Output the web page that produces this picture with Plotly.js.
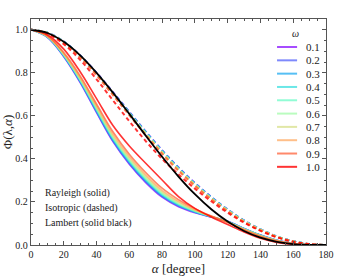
<!DOCTYPE html>
<html>
<head>
<meta charset="utf-8">
<script src="https://cdn.plot.ly/plotly-3.0.1.min.js"></script>
<style>
  html, body { margin: 0; padding: 0; background: #fff; }
  #chart { width: 354px; height: 279px; }
</style>
</head>
<body>
<div id="chart"></div>
<script>
// phase angle grid, degrees
const alpha = [0, 10, 20, 30, 40, 50, 60, 70, 80, 90, 100, 110, 120, 130, 140, 150, 160, 170, 180]
const omegas = ["0.1", "0.2", "0.3", "0.4", "0.5", "0.6", "0.7", "0.8", "0.9", "1.0"]

// Rayleigh scattering (solid), one per omega
const ray01 = [1, 0.965, 0.875, 0.755, 0.615, 0.480, 0.375, 0.290, 0.222, 0.178, 0.150, 0.130, 0.110, 0.077, 0.046, 0.022, 0.007, 0.001, 0]
const ray02 = [1, 0.966, 0.877, 0.758, 0.618, 0.484, 0.379, 0.294, 0.226, 0.181, 0.152, 0.130, 0.110, 0.076, 0.046, 0.022, 0.007, 0.001, 0]
const ray03 = [1, 0.966, 0.878, 0.760, 0.622, 0.488, 0.383, 0.298, 0.229, 0.184, 0.153, 0.131, 0.109, 0.076, 0.045, 0.021, 0.007, 0.001, 0]
const ray04 = [1, 0.967, 0.880, 0.763, 0.625, 0.492, 0.387, 0.302, 0.233, 0.186, 0.155, 0.131, 0.109, 0.075, 0.045, 0.021, 0.007, 0.001, 0]
const ray05 = [1, 0.968, 0.882, 0.766, 0.630, 0.497, 0.392, 0.307, 0.237, 0.190, 0.157, 0.132, 0.108, 0.074, 0.044, 0.021, 0.007, 0.001, 0]
const ray06 = [1, 0.968, 0.884, 0.769, 0.634, 0.501, 0.397, 0.312, 0.242, 0.193, 0.159, 0.132, 0.108, 0.074, 0.043, 0.021, 0.006, 0.001, 0]
const ray07 = [1, 0.969, 0.886, 0.773, 0.639, 0.507, 0.403, 0.318, 0.247, 0.198, 0.161, 0.133, 0.107, 0.073, 0.043, 0.020, 0.006, 0.001, 0]
const ray08 = [1, 0.970, 0.889, 0.778, 0.646, 0.515, 0.411, 0.326, 0.254, 0.203, 0.164, 0.134, 0.106, 0.072, 0.042, 0.020, 0.006, 0.001, 0]
const ray09 = [1, 0.972, 0.894, 0.786, 0.655, 0.526, 0.422, 0.337, 0.264, 0.211, 0.169, 0.135, 0.105, 0.070, 0.040, 0.019, 0.006, 0.001, 0]
const ray10 = [1, 0.977, 0.910, 0.805, 0.680, 0.555, 0.460, 0.380, 0.302, 0.225, 0.170, 0.130, 0.095, 0.060, 0.031, 0.012, 0.003, 0.0005, 0]

// isotropic scattering (dashed)
const iso01 = [1, 0.986, 0.945, 0.880, 0.800, 0.710, 0.618, 0.527, 0.440, 0.360, 0.288, 0.223, 0.165, 0.114, 0.073, 0.040, 0.017, 0.004, 0]
const iso02 = [1, 0.986, 0.945, 0.879, 0.799, 0.709, 0.617, 0.526, 0.439, 0.359, 0.287, 0.222, 0.164, 0.113, 0.073, 0.040, 0.017, 0.004, 0]
const iso03 = [1, 0.986, 0.944, 0.879, 0.798, 0.707, 0.615, 0.524, 0.437, 0.357, 0.285, 0.221, 0.163, 0.113, 0.072, 0.040, 0.017, 0.004, 0]
const iso04 = [1, 0.986, 0.944, 0.878, 0.797, 0.706, 0.614, 0.523, 0.436, 0.356, 0.284, 0.220, 0.163, 0.112, 0.072, 0.039, 0.017, 0.004, 0]
const iso05 = [1, 0.985, 0.943, 0.877, 0.796, 0.705, 0.612, 0.521, 0.434, 0.354, 0.283, 0.219, 0.162, 0.112, 0.071, 0.039, 0.017, 0.004, 0]
const iso06 = [1, 0.985, 0.943, 0.876, 0.794, 0.703, 0.610, 0.519, 0.432, 0.352, 0.281, 0.217, 0.161, 0.111, 0.071, 0.039, 0.017, 0.004, 0]
const iso07 = [1, 0.985, 0.942, 0.875, 0.793, 0.702, 0.609, 0.517, 0.430, 0.351, 0.280, 0.216, 0.160, 0.110, 0.070, 0.039, 0.016, 0.004, 0]
const iso08 = [1, 0.985, 0.941, 0.874, 0.791, 0.699, 0.606, 0.514, 0.427, 0.348, 0.277, 0.214, 0.158, 0.109, 0.070, 0.038, 0.016, 0.004, 0]
const iso09 = [1, 0.984, 0.940, 0.872, 0.788, 0.696, 0.602, 0.510, 0.423, 0.344, 0.274, 0.211, 0.156, 0.107, 0.068, 0.037, 0.016, 0.004, 0]
const iso10 = [1, 0.982, 0.933, 0.860, 0.770, 0.672, 0.575, 0.483, 0.400, 0.328, 0.262, 0.203, 0.150, 0.104, 0.066, 0.036, 0.015, 0.004, 0]

// Lambert sphere (solid black)
const lambert = [1, 0.985, 0.944, 0.881, 0.800, 0.708, 0.609, 0.508, 0.410, 0.318, 0.236, 0.166, 0.109, 0.065, 0.034, 0.015, 0.004, 0.0005, 0]

const rayleigh = [ray01, ray02, ray03, ray04, ray05, ray06, ray07, ray08, ray09, ray10]
const isotropic = [iso01, iso02, iso03, iso04, iso05, iso06, iso07, iso08, iso09, iso10]

// matplotlib "rainbow" colours, semi transparent
const colors = [
  "rgba(128,0,255,0.7)", "rgba(71,87,251,0.7)", "rgba(14,164,240,0.7)", "rgba(43,221,221,0.7)",
  "rgba(99,251,195,0.7)", "rgba(156,251,164,0.7)", "rgba(212,221,128,0.7)", "rgba(255,164,87,0.7)",
  "rgba(255,87,44,0.7)", "rgba(255,0,0,0.8)",
]

const serif = "Liberation Serif, DejaVu Serif, serif"

const data = []
rayleigh.forEach((ys, i) => {
  data.push({
    x: alpha, y: ys, type: "scatter", mode: "lines", name: omegas[i],
    line: { color: colors[i], width: 1.6, shape: "spline", smoothing: 1 },
    showlegend: false,
  })
})
isotropic.forEach((ys, i) => {
  data.push({
    x: alpha, y: ys, type: "scatter", mode: "lines", name: omegas[i],
    line: { color: colors[i], width: 2, dash: "4px,3px", shape: "spline", smoothing: 1 },
    showlegend: false,
  })
})
data.push({
  x: alpha, y: lambert, type: "scatter", mode: "lines", name: "Lambert",
  line: { color: "#000", width: 1.8, shape: "spline", smoothing: 1 },
  showlegend: false,
})

// hand drawn legend, matplotlib style
const shapes = []
const annotations = []
omegas.forEach((w, i) => {
  const yy = 0.876 - i * 0.0589
  shapes.push({
    type: "line", xref: "paper", yref: "paper",
    x0: 0.834, x1: 0.902, y0: yy, y1: yy,
    line: { color: colors[i], width: 2 },
  })
  annotations.push({
    xref: "paper", yref: "paper", x: 0.925, y: yy, text: w,
    showarrow: false, xanchor: "left", yanchor: "middle",
    font: { family: serif, size: 11, color: "#222" },
  })
})
annotations.push({
  xref: "paper", yref: "paper", x: 0.895, y: 0.938, text: "<i>ω</i>",
  showarrow: false, xanchor: "center", yanchor: "middle",
  font: { family: serif, size: 10, color: "#222" },
})
const notes = ["Rayleigh (solid)", "Isotropic (dashed)", "Lambert (solid black)"]
notes.forEach((t, i) => {
  annotations.push({
    xref: "paper", yref: "paper", x: 0.039, y: 0.231 - i * 0.066, text: t,
    showarrow: false, xanchor: "left", yanchor: "middle",
    font: { family: serif, size: 10, color: "#222" },
  })
})

const axisCommon = {
  showline: true, linecolor: "#555", linewidth: 1.3, mirror: "ticks",
  ticks: "inside", ticklen: 4, tickcolor: "#555", tickwidth: 1,
  showgrid: false, zeroline: false,
  tickfont: { family: serif, size: 10, color: "#222" },
}

const layout = {
  width: 354, height: 279,
  margin: { l: 31, r: 28, t: 19, b: 34 },
  paper_bgcolor: "#fff", plot_bgcolor: "#fff",
  showlegend: false,
  xaxis: {
    ...axisCommon,
    range: [0, 180], dtick: 20,
    minor: { dtick: 5, ticks: "inside", ticklen: 2, tickcolor: "#555" },
    title: { text: "<i>α</i> [degree]", font: { family: serif, size: 13, color: "#222" }, standoff: 4 },
  },
  yaxis: {
    ...axisCommon,
    range: [0, 1.05], dtick: 0.2, tickformat: ".1f",
    minor: { dtick: 0.05, ticks: "inside", ticklen: 2, tickcolor: "#555" },
    title: { text: "Φ(λ,<i>α</i>)", font: { family: serif, size: 13, color: "#222" }, standoff: 4 },
  },
  shapes: shapes,
  annotations: annotations,
}

Plotly.newPlot("chart", data, layout, { staticPlot: true })
</script>
</body>
</html>
